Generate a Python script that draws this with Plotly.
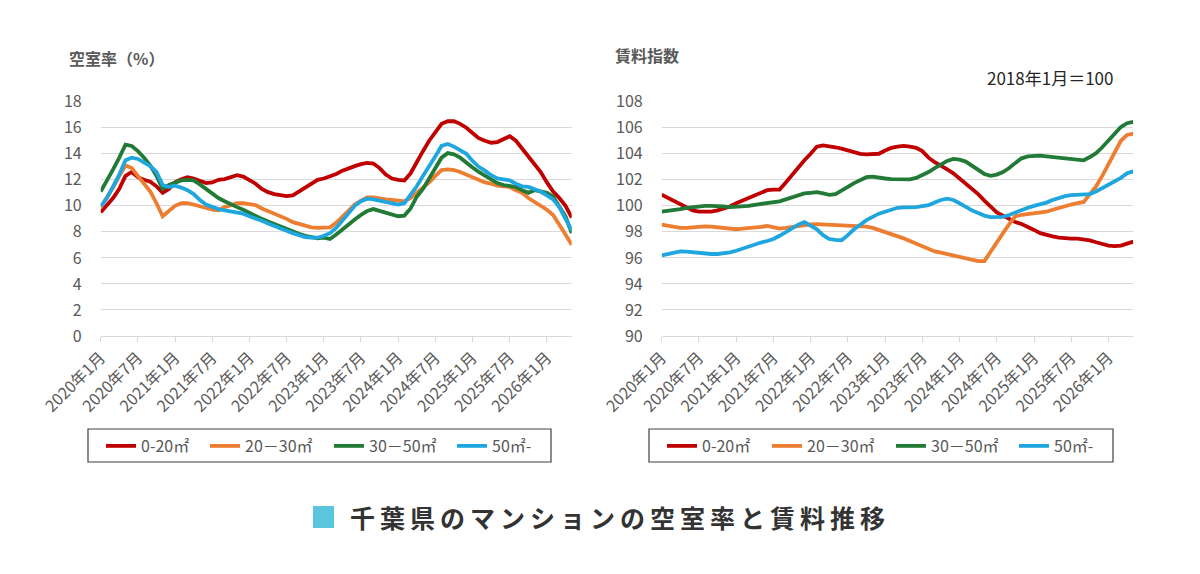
import plotly.graph_objects as go

# ---------------- data ----------------
months = [f"{y}年{m}月" for y in range(2020, 2027) for m in range(1, 13)][:77]
tick_labels = months[::6]

series_names = ["0-20㎡", "20－30㎡", "30－50㎡", "50㎡-"]
series_colors = ["#C00000", "#ED7D31", "#217A35", "#1FA6DE"]

vac_0_20 = [9.5, 10.0, 10.6, 11.3, 12.3, 12.6, 12.2, 12.0, 11.85, 11.5, 11.0, 11.3, 11.8, 12.05, 12.2, 12.1,
            11.95, 11.75, 11.8, 12.0, 12.05, 12.2, 12.35, 12.25, 12.0, 11.7, 11.3, 11.05, 10.9, 10.8, 10.75,
            10.8, 11.1, 11.4, 11.7, 12.0, 12.1, 12.25, 12.45, 12.7, 12.9, 13.05, 13.2, 13.3, 13.25, 12.9,
            12.4, 12.1, 12.0, 11.95, 12.5, 13.4, 14.2, 15.0, 15.7, 16.3, 16.5, 16.5, 16.3, 16.0, 15.6, 15.2,
            15.0, 14.85, 14.9, 15.1, 15.35, 15.0, 14.4, 13.85, 13.3, 12.6, 11.8, 11.1, 10.6, 10.0, 9.1]
vac_20_30 = [9.9, 10.6, 11.4, 12.3, 13.1, 12.9, 12.3, 11.7, 11.1, 10.2, 9.2, 9.6, 10.0, 10.2, 10.2, 10.1,
             9.95, 9.8, 9.7, 9.65, 9.9, 10.05, 10.2, 10.2, 10.15, 10.05, 9.8, 9.6, 9.45, 9.25, 9.0, 8.75,
             8.6, 8.5, 8.35, 8.3, 8.35, 8.35, 8.7, 9.2, 9.7, 10.1, 10.4, 10.65, 10.65, 10.55, 10.5, 10.45,
             10.4, 10.35, 10.6, 11.0, 11.4, 11.8, 12.3, 12.75, 12.8, 12.75, 12.6, 12.4, 12.2, 11.95, 11.8,
             11.7, 11.55, 11.5, 11.45, 11.2, 11.0, 10.6, 10.3, 10.0, 9.7, 9.3, 8.6, 7.8, 7.0]
vac_30_50 = [11.1, 11.9, 12.8, 13.7, 14.7, 14.6, 14.2, 13.7, 13.1, 12.3, 11.3, 11.6, 11.8, 11.95, 12.0, 11.95,
             11.65, 11.3, 10.9, 10.6, 10.35, 10.1, 9.9, 9.7, 9.45, 9.25, 9.0, 8.8, 8.6, 8.4, 8.2, 8.0, 7.85,
             7.7, 7.6, 7.5, 7.55, 7.45, 7.8, 8.2, 8.6, 8.95, 9.3, 9.6, 9.75, 9.6, 9.45, 9.3, 9.2, 9.25, 9.8,
             10.7, 11.3, 12.1, 12.9, 13.7, 14.05, 13.95, 13.7, 13.3, 12.95, 12.6, 12.3, 12.0, 11.75, 11.6,
             11.5, 11.45, 11.2, 11.0, 11.2, 11.1, 11.0, 10.7, 10.0, 9.2, 7.9]
vac_50 = [9.95, 10.6, 11.5, 12.4, 13.5, 13.7, 13.6, 13.35, 13.05, 12.6, 11.6, 11.45, 11.55, 11.4, 11.2, 10.9,
          10.45, 10.1, 9.9, 9.75, 9.65, 9.55, 9.45, 9.4, 9.2, 9.05, 8.85, 8.65, 8.45, 8.25, 8.1, 7.9, 7.75,
          7.6, 7.55, 7.55, 7.7, 7.9, 8.3, 8.9, 9.5, 10.0, 10.35, 10.55, 10.5, 10.4, 10.25, 10.15, 10.1, 10.2,
          10.8, 11.5, 12.3, 13.0, 13.8, 14.6, 14.75, 14.55, 14.3, 14.0, 13.45, 13.0, 12.7, 12.35, 12.1, 12.0,
          11.95, 11.7, 11.5, 11.45, 11.3, 11.1, 10.8, 10.5, 9.9, 9.0, 8.1]

rent_0_20 = [100.85, 100.6, 100.35, 100.1, 99.85, 99.65, 99.55, 99.55, 99.55, 99.65, 99.8, 99.95, 100.2, 100.4,
             100.6, 100.8, 101.0, 101.2, 101.25, 101.25, 101.8, 102.4, 103.0, 103.5, 104.0, 104.55, 104.65,
             104.6, 104.5, 104.4, 104.25, 104.1, 104.0, 103.95, 103.95, 104.0, 104.25, 104.45, 104.55, 104.6,
             104.55, 104.45, 104.2, 103.7, 103.35, 103.1, 102.8, 102.5, 102.1, 101.75, 101.3, 100.9, 100.4,
             99.9, 99.5, 99.25, 99.0, 98.75, 98.6, 98.4, 98.15, 97.9, 97.75, 97.65, 97.55, 97.5, 97.48, 97.48,
             97.45, 97.35, 97.2, 97.05, 96.95, 96.9, 96.95, 97.1, 97.25]
rent_20_30 = [98.55, 98.45, 98.35, 98.3, 98.3, 98.35, 98.4, 98.42, 98.4, 98.35, 98.25, 98.18, 98.2, 98.25,
              98.28, 98.32, 98.38, 98.45, 98.35, 98.25, 98.3, 98.38, 98.45, 98.52, 98.58, 98.6, 98.58, 98.55,
              98.52, 98.5, 98.5, 98.48, 98.45, 98.4, 98.3, 98.15, 98.0, 97.85, 97.7, 97.5, 97.3, 97.1, 96.9,
              96.65, 96.5, 96.4, 96.3, 96.2, 96.05, 95.95, 95.85, 95.75, 95.75, 96.5, 97.2, 97.9, 98.6, 99.2,
              99.3, 99.35, 99.4, 99.45, 99.55, 99.7, 99.85, 99.98, 100.1, 100.2, 100.3, 100.9, 101.5, 102.3,
              103.2, 104.1, 105.0, 105.45, 105.55]
rent_30_50 = [99.55, 99.6, 99.68, 99.75, 99.85, 99.92, 99.97, 100.0, 100.0, 100.0, 99.95, 99.9, 99.92, 99.95,
              100.0, 100.08, 100.15, 100.25, 100.3, 100.35, 100.5, 100.65, 100.8, 100.95, 101.0, 101.05, 100.95,
              100.85, 100.9, 101.15, 101.45, 101.75, 102.0, 102.2, 102.25, 102.15, 102.1, 102.05, 102.05, 102.03,
              102.03, 102.15, 102.35, 102.6, 102.9, 103.2, 103.45, 103.6, 103.55, 103.4, 103.1, 102.75, 102.45,
              102.3, 102.4, 102.6, 102.9, 103.3, 103.65, 103.8, 103.85, 103.85, 103.8, 103.75, 103.65, 103.6,
              103.6, 103.55, 103.5, 103.75, 104.05, 104.5, 105.0, 105.5, 106.05, 106.35, 106.45]
rent_50 = [96.2, 96.3, 96.42, 96.5, 96.48, 96.42, 96.38, 96.33, 96.3, 96.3, 96.35, 96.42, 96.55, 96.72, 96.9,
           97.08, 97.18, 97.3, 97.45, 97.7, 98.0, 98.3, 98.55, 98.75, 98.5, 98.2, 97.75, 97.45, 97.38, 97.36,
           97.75, 98.2, 98.55, 98.9, 99.15, 99.4, 99.55, 99.7, 99.85, 99.88, 99.87, 99.9, 99.97, 100.05, 100.25,
           100.45, 100.55, 100.45, 100.2, 99.9, 99.65, 99.45, 99.25, 99.14, 99.13, 99.15, 99.3, 99.5, 99.7,
           99.85, 100.0, 100.1, 100.25, 100.45, 100.6, 100.75, 100.82, 100.83, 100.83, 100.9, 101.1, 101.35,
           101.6, 101.9, 102.15, 102.5, 102.65]

vacancy = [vac_0_20, vac_20_30, vac_30_50, vac_50]
rent = [rent_0_20, rent_20_30, rent_30_50, rent_50]

vac_ticks = [0, 2, 4, 6, 8, 10, 12, 14, 16, 18]
rent_ticks = [90, 92, 94, 96, 98, 100, 102, 104, 106, 108]

# ---------------- figure ----------------
W, H = 1200, 574
FONT = "Noto Sans CJK JP"
GRAY = "#595959"
GRID = "#D9D9D9"

def px(x):
    return x / W

def py(y):
    return 1 - y / H

# legend entry positions (px) for each panel
legend_x_left = [101, 205, 329, 452]
legend_x_right = [662, 767, 891, 1014]

fig = go.Figure()
legend_layout = {}
k = 0
for panel, (data, lx, xa, ya) in enumerate([(vacancy, legend_x_left, "x", "y"),
                                            (rent, legend_x_right, "x2", "y2")]):
    for name, color, ys, xpos in zip(series_names, series_colors, data, lx):
        k += 1
        lname = "legend" if k == 1 else f"legend{k}"
        fig.add_trace(go.Scatter(x=months, y=ys, name=name, mode="lines",
                                 line=dict(color=color, width=3.8),
                                 xaxis=xa, yaxis=ya, legend=lname))
        legend_layout[lname] = dict(orientation="h", x=px(xpos), y=py(429),
                                    xanchor="left", yanchor="top",
                                    bgcolor="rgba(0,0,0,0)", borderwidth=0,
                                    font=dict(family=FONT, size=16, color=GRAY))

xcommon = dict(type="category", range=[0, len(months) - 1], tickmode="array",
               tickvals=tick_labels, ticktext=tick_labels, tickangle=-45,
               showline=True, linecolor=GRID, linewidth=1, ticks="outside",
               ticklen=5, tickcolor=GRID, showgrid=False, zeroline=False,
               automargin=False,
               tickfont=dict(family=FONT, size=16, color=GRAY))
ycommon = dict(showgrid=True, gridcolor=GRID, gridwidth=1, zeroline=False,
               showline=False, ticks="", ticklabelstandoff=18, automargin=False,
               tickfont=dict(family=FONT, size=16, color=GRAY))

ydom = [py(336), py(101.7)]
fig.update_layout(
    width=W, height=H, autosize=False,
    margin=dict(l=0, r=0, t=0, b=0, pad=0, autoexpand=False),
    paper_bgcolor="white", plot_bgcolor="white",
    xaxis=dict(domain=[px(100.7), px(571.7)], anchor="y", **xcommon),
    yaxis=dict(domain=ydom, anchor="x", range=[0, 18], tickvals=vac_ticks, **ycommon),
    xaxis2=dict(domain=[px(661.7), px(1133.3)], anchor="y2", **xcommon),
    yaxis2=dict(domain=ydom, anchor="x2", range=[90, 108], tickvals=rent_ticks, **ycommon),
    showlegend=True,
    **legend_layout,
)

# legend frames
for x0, x1 in [(88, 551), (649, 1113)]:
    fig.add_shape(type="rect", xref="paper", yref="paper",
                  x0=px(x0), x1=px(x1), y0=py(462), y1=py(429),
                  line=dict(color="#404040", width=1.2), fillcolor="rgba(0,0,0,0)")

# titles
fig.add_annotation(text="<b>空室率（%）</b>", xref="paper", yref="paper", x=px(67), y=py(58),
                   xanchor="left", yanchor="middle", showarrow=False,
                   font=dict(family=FONT, size=16, color=GRAY))
fig.add_annotation(text="<b>賃料指数</b>", xref="paper", yref="paper", x=px(613), y=py(55),
                   xanchor="left", yanchor="middle", showarrow=False,
                   font=dict(family=FONT, size=16, color=GRAY))
fig.add_annotation(text="2018年1月＝100", xref="paper", yref="paper", x=px(1050), y=py(77),
                   xanchor="center", yanchor="middle", showarrow=False,
                   font=dict(family=FONT, size=17, color="#262626"))

# bottom title
fig.add_shape(type="rect", xref="paper", yref="paper", x0=px(313), x1=px(334), y0=py(528), y1=py(506),
              line=dict(width=0), fillcolor="#5BC5DD")
title = "千葉県のマンションの空室率と賃料推移"
fig.add_annotation(text="<b>" + "\u2009".join(title) + "</b>",
                   xref="paper", yref="paper",
                   x=px(348), y=py(517), xanchor="left", yanchor="middle", showarrow=False,
                   font=dict(family=FONT, size=25, color="#333333"))

fig.write_html("out.html")
